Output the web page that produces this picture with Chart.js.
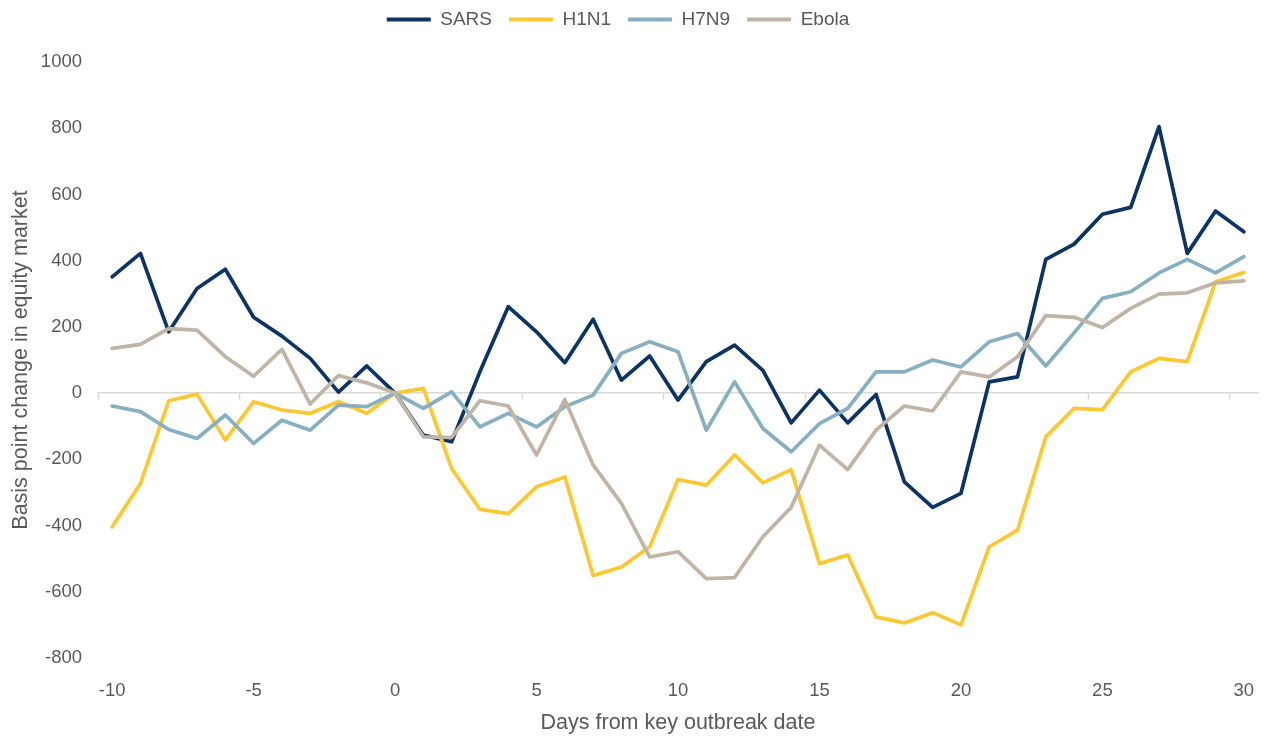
<!DOCTYPE html>
<html>
<head>
<meta charset="utf-8">
<script src="https://cdn.jsdelivr.net/npm/chart.js@4.4.1/dist/chart.umd.min.js"></script>
<style>
  html, body { margin: 0; padding: 0; background: #ffffff; }
  #wrap { width: 1264px; height: 736px; position: relative; }
</style>
</head>
<body>
<div id="wrap"><canvas id="c"></canvas></div>
<script>
const days = [-10, -9, -8, -7, -6, -5, -4, -3, -2, -1, 0, 1, 2, 3, 4, 5, 6, 7, 8, 9, 10,
  11, 12, 13, 14, 15, 16, 17, 18, 19, 20, 21, 22, 23, 24, 25, 26, 27, 28, 29, 30];

const sars = [351, 422, 185, 316, 374, 229, 172, 105, 3, 82, 0,
  -127, -147, 65, 261, 185, 92, 223, 39, 112, -21,
  95, 145, 69, -90, 9, -90, -4, -268, -345, -303,
  34, 49, 404, 450, 540, 561, 805, 422, 550, 487];

const h1n1 = [-404, -273, -23, -3, -142, -26, -51, -61, -26, -61, 0,
  14, -228, -351, -364, -283, -253, -551, -525, -464, -261,
  -278, -187, -271, -231, -515, -489, -676, -694, -663, -700,
  -464, -414, -132, -46, -50, 64, 105, 95, 336, 364];

const h7n9 = [-39, -56, -110, -137, -66, -152, -82, -112, -36, -41, 0,
  -46, 4, -102, -61, -102, -41, -6, 120, 155, 125,
  -112, 34, -107, -177, -92, -46, 64, 64, 100, 79,
  155, 180, 82, 182, 286, 306, 363, 404, 363, 412];

const ebola = [135, 147, 195, 190, 110, 51, 132, -33, 53, 31, 0,
  -132, -134, -23, -39, -187, -19, -217, -333, -495, -479,
  -560, -557, -434, -345, -157, -231, -112, -39, -54, 64,
  49, 110, 234, 229, 198, 256, 299, 303, 333, 339];

const seriesNames = ['SARS', 'H1N1', 'H7N9', 'Ebola'];
const seriesColors = ['#0c3366', '#fdc72f', '#87afc2', '#bfb4a6'];
const yTicks = { min: -800, max: 1000, step: 200 };
const labelEvery = 5;

const FONT = "'Liberation Sans', Arial, Helvetica, sans-serif";
const TEXT = '#595959';
const FS = 18.5;
const FS_TITLE = 21.5;
const FS_LEGEND = 19;

const seriesData = [sars, h1n1, h7n9, ebola];
const datasets = seriesData.map((d, i) => ({
  label: seriesNames[i],
  data: d,
  borderColor: seriesColors[i],
  backgroundColor: seriesColors[i],
  borderWidth: 3.7,
  pointRadius: 0,
  pointHoverRadius: 0,
  tension: 0,
  borderJoinStyle: 'round',
  borderCapStyle: 'round',
  xAxisID: 'x',
  order: seriesData.length - i
}));

const legendSpace = {
  id: 'legendSpace',
  afterInit(chart) {
    const lg = chart.legend;
    if (!lg || lg._patched) return;
    const orig = lg.fit;
    lg.fit = function () {
      orig.call(this);
      this.height = 62;
    };
    lg._patched = true;
  },
  afterLayout(chart) {
    const lg = chart.legend;
    if (!lg) return;
    lg.top -= 7;
    lg.left -= 11;
    lg.right -= 11;
  }
};

new Chart(document.getElementById('c'), {
  type: 'line',
  data: { labels: days, datasets },
  plugins: [legendSpace],
  options: {
    responsive: true,
    maintainAspectRatio: false,
    animation: false,
    layout: { padding: { left: 0, right: 6, top: 0, bottom: 0 } },
    plugins: {
      tooltip: { enabled: false },
      legend: {
        position: 'top',
        align: 'center',
        labels: {
          color: TEXT,
          font: { family: FONT, size: FS_LEGEND },
          boxWidth: 44,
          boxHeight: 4,
          padding: 17,
          generateLabels(chart) {
            return chart.data.datasets.map((ds, i) => ({
              text: ds.label,
              fillStyle: ds.borderColor,
              strokeStyle: ds.borderColor,
              lineWidth: 0,
              fontColor: TEXT,
              hidden: false,
              datasetIndex: i
            }));
          }
        }
      }
    },
    scales: {
      x: {
        type: 'category',
        position: 'bottom',
        offset: true,
        grid: { display: false },
        border: { display: false },
        ticks: {
          autoSkip: false,
          maxRotation: 0,
          minRotation: 0,
          padding: 14,
          color: TEXT,
          font: { family: FONT, size: FS },
          callback(value, index) {
            const d = days[index];
            return d % labelEvery === 0 ? String(d) : '';
          }
        },
        title: {
          display: true,
          text: 'Days from key outbreak date',
          color: TEXT,
          font: { family: FONT, size: FS_TITLE },
          padding: { top: 1, bottom: 0 }
        },
        afterFit(scale) {
          scale.height = 78;
          scale.paddingLeft = 0;
          scale.paddingRight = 0;
        }
      },
      xZero: {
        type: 'category',
        labels: days,
        position: { y: 0 },
        offset: true,
        grid: {
          display: true,
          offset: true,
          drawOnChartArea: false,
          drawTicks: true,
          tickLength: 6,
          tickWidth: 1.5,
          tickColor: (ctx) => (ctx.index % labelEvery === 0 ? '#d9d9d9' : 'rgba(0,0,0,0)')
        },
        border: { display: true, color: '#d9d9d9', width: 1.5 },
        ticks: { display: false, autoSkip: false },
        afterFit(scale) {
          scale.paddingLeft = 0;
          scale.paddingRight = 0;
        }
      },
      y: {
        type: 'linear',
        position: 'left',
        min: yTicks.min,
        max: yTicks.max,
        grid: { display: false, drawTicks: false },
        border: { display: false },
        ticks: {
          stepSize: yTicks.step,
          padding: 16,
          color: TEXT,
          font: { family: FONT, size: FS },
          callback: (v) => String(v)
        },
        title: {
          display: true,
          text: 'Basis point change in equity market',
          color: TEXT,
          font: { family: FONT, size: FS_TITLE },
          padding: { top: 8, bottom: 0 }
        },
        afterFit(scale) {
          scale.width = 98;
        }
      }
    }
  }
});
</script>
</body>
</html>
